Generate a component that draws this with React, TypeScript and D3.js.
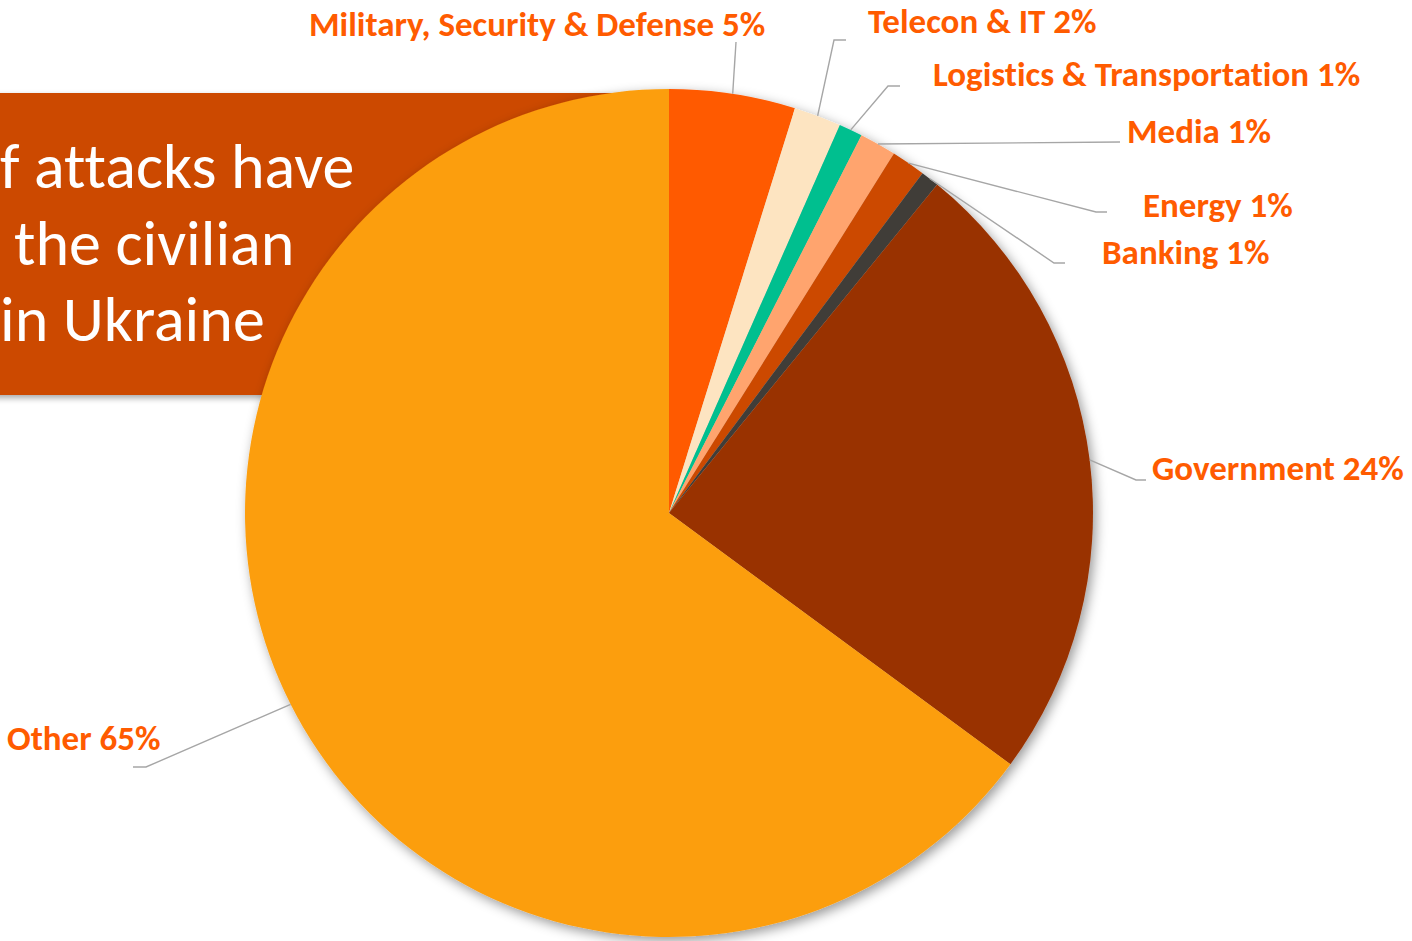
import React from "react";
import * as d3 from "d3";

const categories = [
  "Military, Security & Defense",
  "Telecon & IT",
  "Logistics & Transportation",
  "Media",
  "Energy",
  "Banking",
  "Government",
  "Other",
];
const shares = [4.8, 1.8, 0.9, 1.4, 1.3, 0.7, 24.2, 64.9];
const sliceColors = ["#FF5A00", "#FDE4C1", "#00BF8F", "#FFA46E", "#CC4A00", "#403D38", "#993300", "#FC9E10"];
const titleLines = ["f attacks have", "the civilian", "in Ukraine"];

// label layout: text start x, baseline y, leader elbow and leader end
const labelLayout = [
  { tx: 309, ty: 36, elbow: [736, 42], end: [736, 42] },
  { tx: 868, ty: 33, elbow: [834, 40], end: [846, 40] },
  { tx: 933, ty: 86, elbow: [888, 86], end: [900, 86] },
  { tx: 1127, ty: 143, elbow: [1120, 142], end: [1120, 142] },
  { tx: 1143, ty: 217, elbow: [1096, 212], end: [1107, 212] },
  { tx: 1102, ty: 264, elbow: [1054, 263], end: [1065, 263] },
  { tx: 1152, ty: 480, elbow: [1136, 480], end: [1146, 480] },
  { tx: 7, ty: 750, elbow: [146, 767], end: [133, 767] },
];

const W = 1412;
const H = 941;
const cx = 669;
const cy = 513;
const R = 424;

export default function App() {
  const pie = d3
    .pie<number>()
    .sort(null)
    .value((d) => d)
    .startAngle(0)
    .endAngle(2 * Math.PI);
  const arcs = pie(shares);
  const arc = d3.arc<d3.PieArcDatum<number>>().innerRadius(0).outerRadius(R);
  const edge = d3.arc<d3.PieArcDatum<number>>().innerRadius(R).outerRadius(R);
  const fmt = d3.format(".0f");
  const labelFont = "Carlito, Calibri, Lato, sans-serif";

  return (
    <svg
      width={W}
      height={H}
      style={{ position: "absolute", left: 0, top: 0, background: "#fff", fontVariantLigatures: "none" }}
    >
      <defs>
        <filter id="pieShadow" x="-10%" y="-10%" width="120%" height="120%">
          <feDropShadow dx="3" dy="4" stdDeviation="6" floodColor="#000" floodOpacity="0.4" />
        </filter>
        <filter id="boxShadow" x="-10%" y="-10%" width="120%" height="130%">
          <feDropShadow dx="2" dy="3" stdDeviation="3" floodColor="#000" floodOpacity="0.35" />
        </filter>
      </defs>

      <rect x={-20} y={93} width={660} height={302} fill="#CC4A00" filter="url(#boxShadow)" />
      <g fill="#fff" style={{ fontFamily: labelFont, fontSize: 64 }}>
        <text x={0} y={188}>{titleLines[0]}</text>
        <text x={14} y={265}>{titleLines[1]}</text>
        <text x={0} y={341}>{titleLines[2]}</text>
      </g>

      <g transform={`translate(${cx},${cy})`} filter="url(#pieShadow)">
        {arcs.map((a, i) => (
          <path key={i} d={arc(a) || ""} fill={sliceColors[i]} />
        ))}
      </g>

      <g fill="none" stroke="#A6A6A6" strokeWidth={1.4}>
        {arcs.map((a, i) => {
          const [sx, sy] = edge.centroid(a);
          const L = labelLayout[i];
          const pts = [
            [cx + sx, cy + sy],
            L.elbow,
            L.end,
          ];
          return <path key={i} d={d3.line()(pts as [number, number][]) || ""} />;
        })}
      </g>

      <g fill="#FF5B00" style={{ fontFamily: labelFont, fontSize: 35, fontWeight: 700 }}>
        {categories.map((c, i) => (
          <text key={c} x={labelLayout[i].tx} y={labelLayout[i].ty}>
            {`${c} ${fmt(shares[i])}%`}
          </text>
        ))}
      </g>
    </svg>
  );
}
